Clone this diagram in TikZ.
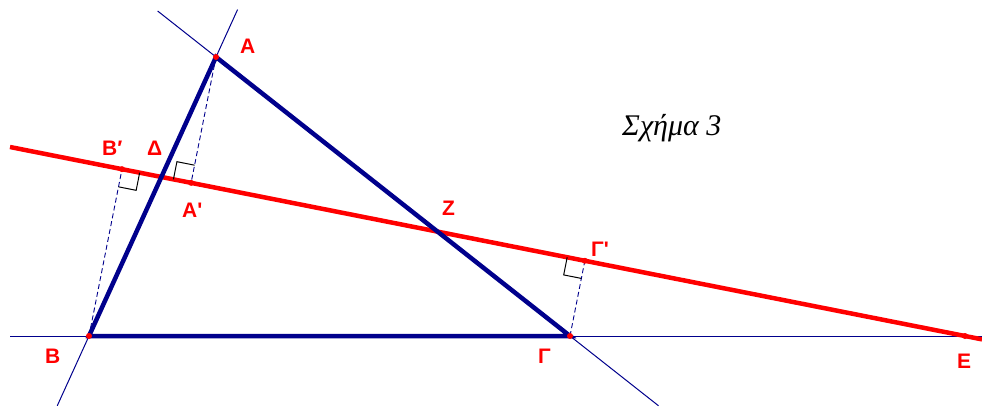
\documentclass[tikz,border=0pt]{standalone}
\usepackage{fontspec}
\setmainfont{Liberation Serif}
\newfontfamily\lblfont{Liberation Sans}
\usetikzlibrary{calc}
\definecolor{navy}{RGB}{0,0,140}
\tikzset{
  thinline/.style={navy, line width=1pt},
  sideline/.style={navy, line width=4.5pt, line cap=round},
  redline/.style={red, line width=4.5pt},
  perpline/.style={navy, line width=0.9pt, dash pattern=on 5pt off 3pt},
  rightmark/.style={black, line width=1pt},
  lbl/.style={red, anchor=base west, inner sep=0pt, font=\lblfont\bfseries\fontsize{21}{21}\selectfont},
  dot/.style={red},
}

\begin{document}
\begin{tikzpicture}[x=1pt, y=-1pt]
\useasboundingbox (0,0) rectangle (982,407);

% Triangle AB\Gamma and the line through Z, \Delta, E
\coordinate (A) at (216,57);
\coordinate (B) at (89,336);
\coordinate (G) at (570,336);
\coordinate (E) at (965,336);
\coordinate (Rl) at (10,147);
\coordinate (Rr) at ($(Rl)!1.0178!(E)$);
\coordinate (D) at (intersection of A--B and Rl--E);
\coordinate (Z) at (intersection of A--G and Rl--E);

% feet of the perpendiculars
\coordinate (Ap) at ($(Rl)!(A)!(E)$);
\coordinate (Bp) at ($(Rl)!(B)!(E)$);
\coordinate (Gp) at ($(Rl)!(G)!(E)$);

% ends of the thin lines
\coordinate (ABt) at ($(B)!1.17!(A)$);
\coordinate (ABb) at ($(A)!1.25!(B)$);
\coordinate (AGt) at ($(G)!1.165!(A)$);
\coordinate (AGb) at ($(A)!1.25!(G)$);
\coordinate (BGl) at (10,336);
\coordinate (BGr) at (982,336);

\draw[thinline] (ABt) -- (ABb);
\draw[thinline] (AGt) -- (AGb);
\draw[thinline] (BGl) -- (BGr);

\draw[perpline] (A) -- (Ap);
\draw[perpline] (B) -- (Bp);
\draw[perpline] (G) -- (Gp);

\draw[redline] (Rl) -- (Rr);

\draw[sideline] (A) -- (B) -- (G) -- cycle;

% right angle marks
\coordinate (a1) at ($(Ap)!18pt!(A)$);
\coordinate (a2) at ($(Ap)!18pt!(D)$);
\draw[rightmark] (a1) -- ($(a1)+(a2)-(Ap)$) -- (a2);
\coordinate (b1) at ($(Bp)!18pt!(B)$);
\coordinate (b2) at ($(Bp)!18pt!(D)$);
\draw[rightmark] (b1) -- ($(b1)+(b2)-(Bp)$) -- (b2);
\coordinate (g1) at ($(Gp)!18pt!(G)$);
\coordinate (g2) at ($(Gp)!18pt!(Z)$);
\draw[rightmark] (g1) -- ($(g1)+(g2)-(Gp)$) -- (g2);

\foreach \p in {A,B,G,E,Ap,Bp,Gp}
  \fill[dot] (\p) circle (3pt);

% labels
\node[lbl] (lA) at (240,53) {A};
\node[lbl] (lBp) at (102,155) {B′};
\node[lbl] (lD) at (147,155) {Δ};
\node[lbl] (lAp) at (182,217) {A\textquotesingle};
\node[lbl] (lZ) at (442,215) {Z};
\node[lbl] (lGp) at (591,256) {Γ\textquotesingle};
\node[lbl] (lB) at (45,363) {B};
\node[lbl] (lG) at (538,363) {Γ};
\node[lbl] (lE) at (957,368) {E};

\node[anchor=base west, inner sep=0pt, font=\itshape\fontsize{30}{30}\selectfont] (title) at (622,135) {Σχήμα 3};

\end{tikzpicture}
\end{document}
